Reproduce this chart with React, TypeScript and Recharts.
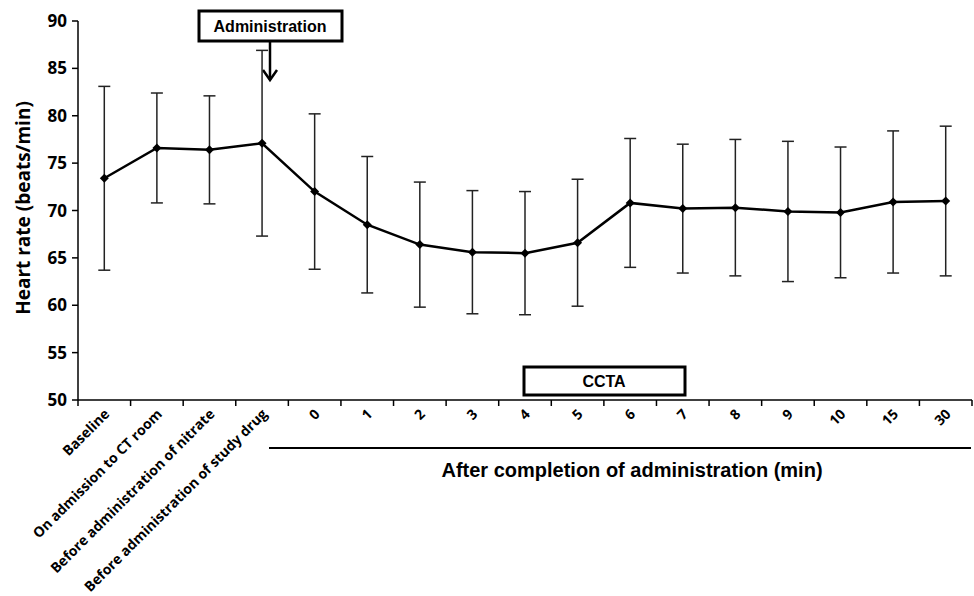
import React from 'react';
import { LineChart, Line, XAxis, YAxis, ErrorBar } from 'recharts';

const categories = [
  'Baseline',
  'On admission to CT room',
  'Before administration of nitrate',
  'Before administration of study drug',
  '0', '1', '2', '3', '4', '5', '6', '7', '8', '9', '10', '15', '30',
];
const heartRate = [73.4, 76.6, 76.4, 77.1, 72.0, 68.5, 66.4, 65.6, 65.5, 66.6, 70.8, 70.2, 70.3, 69.9, 69.8, 70.9, 71.0];
const heartRateSd = [9.7, 5.8, 5.7, 9.8, 8.2, 7.2, 6.6, 6.5, 6.5, 6.7, 6.8, 6.8, 7.2, 7.4, 6.9, 7.5, 7.9];
const yTicks = [50, 55, 60, 65, 70, 75, 80, 85, 90];

const data = categories.map((name, i) => ({ name, hr: heartRate[i], sd: heartRateSd[i] }));

const W = 974;
const H = 596;
const margin = { top: 21, right: 2, bottom: 0, left: 0 };
const yAxisWidth = 78;
const xAxisHeight = 196;
const band = (W - margin.left - margin.right - yAxisWidth) / categories.length;

const font = '"Open Sans", sans-serif';
const arial = '"Liberation Sans", Arial, sans-serif';

const XTick = (props: any) => {
  const { x, y, payload, index } = props;
  const half = band / 2;
  return (
    <g>
      <line x1={x - half} x2={x - half} y1={y} y2={y + 6} stroke="#000" strokeWidth={1.5} />
      {index === categories.length - 1 && (
        <line x1={x + half} x2={x + half} y1={y} y2={y + 6} stroke="#000" strokeWidth={1.5} />
      )}
      <text
        x={x + 6}
        y={y + 15}
        transform={`rotate(-45, ${x + 6}, ${y + 15})`}
        textAnchor="end"
        fontFamily={font}
        fontWeight={700}
        fontSize={14}
        fill="#000"
      >
        {payload.value}
      </text>
    </g>
  );
};

const Diamond = (props: any) => {
  const { cx, cy } = props;
  if (cx == null || cy == null) return null;
  const r = 4.5;
  return <polygon points={`${cx},${cy - r} ${cx + r},${cy} ${cx},${cy + r} ${cx - r},${cy}`} fill="#000" />;
};

export default function App() {
  return (
    <div style={{ position: 'absolute', left: 0, top: 0, background: '#fff' }}>
      <LineChart width={W} height={H} data={data} margin={margin}>
        <XAxis
          dataKey="name"
          interval={0}
          height={xAxisHeight}
          padding={{ left: band / 2, right: band / 2 }}
          tickLine={false}
          tickSize={0}
          tickMargin={0}
          tick={<XTick />}
          axisLine={{ stroke: '#000', strokeWidth: 1.5 }}
        />
        <YAxis
          domain={[50, 90]}
          ticks={yTicks}
          width={yAxisWidth}
          interval={0}
          tickSize={6}
          tickMargin={5}
          axisLine={{ stroke: '#000', strokeWidth: 1.5 }}
          tickLine={{ stroke: '#000', strokeWidth: 1.5 }}
          tick={{ fill: '#000', fontFamily: font, fontWeight: 700, fontSize: 17 }}
        />
        <Line
          dataKey="hr"
          stroke="#000"
          strokeWidth={2.5}
          dot={<Diamond />}
          activeDot={false}
          isAnimationActive={false}
        >
          <ErrorBar dataKey="sd" width={6} stroke="#222" strokeWidth={1.5} direction="y" />
        </Line>

        <text
          x={30}
          y={208}
          transform="rotate(-90, 30, 208)"
          textAnchor="middle"
          fontFamily={font}
          fontWeight={700}
          fontSize={19}
          fill="#000"
        >
          Heart rate (beats/min)
        </text>

        <rect x={199} y={11} width={143} height={30} fill="#fff" stroke="#000" strokeWidth={3} />
        <text x={270} y={32} textAnchor="middle" fontFamily={arial} fontWeight={700} fontSize={16} fill="#000">
          Administration
        </text>
        <line x1={270} x2={270} y1={42} y2={80} stroke="#000" strokeWidth={2.5} />
        <polyline points="263,70 270,80 277,70" fill="none" stroke="#000" strokeWidth={2.5} />

        <rect x={524} y={367} width={161} height={28} fill="#fff" stroke="#000" strokeWidth={3} />
        <text x={604} y={387} textAnchor="middle" fontFamily={arial} fontWeight={700} fontSize={16} fill="#000">
          CCTA
        </text>

        <line x1={269} x2={971} y1={448} y2={448} stroke="#000" strokeWidth={2} />
        <text x={632} y={477} textAnchor="middle" fontFamily={arial} fontWeight={700} fontSize={20} fill="#000">
          After completion of administration (min)
        </text>
      </LineChart>
    </div>
  );
}
